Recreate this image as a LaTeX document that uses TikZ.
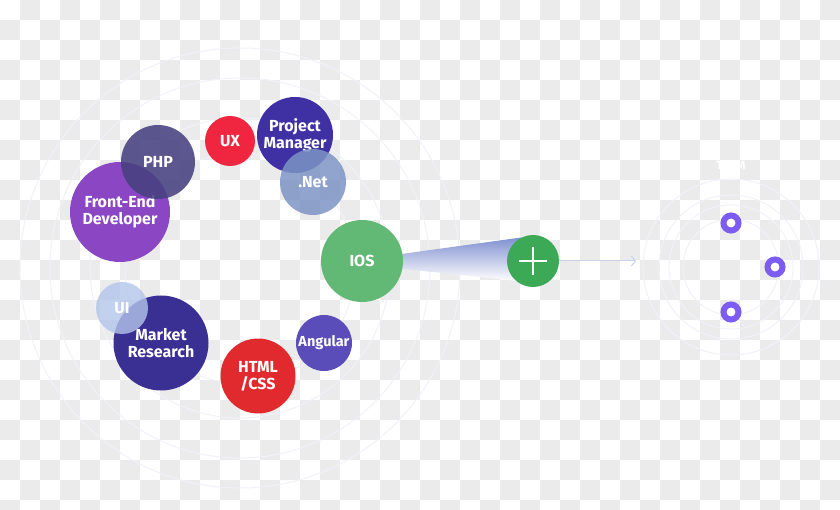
\documentclass[tikz,border=0pt]{standalone}
\usepackage{fontspec}
\setmainfont{Fira Sans}
\usetikzlibrary{arrows.meta}

\pgfdeclarelayer{bg}
\pgfdeclarelayer{mid}
\pgfsetlayers{bg,mid,main}

\definecolor{checkgray}{HTML}{EBEBEB}
\definecolor{ringblue}{HTML}{F0F2FA}
\definecolor{frontpurple}{HTML}{8A46C3}
\definecolor{phpslate}{HTML}{46417F}
\definecolor{uxred}{HTML}{F0253F}
\definecolor{pmblue}{HTML}{3F30A3}
\definecolor{netblue}{HTML}{7C94C5}
\definecolor{iosgreen}{HTML}{62B975}
\definecolor{angularblue}{HTML}{5B4DB9}
\definecolor{htmlred}{HTML}{E12A2E}
\definecolor{marketblue}{HTML}{3A2F92}
\definecolor{uiblue}{HTML}{B2C5EA}
\definecolor{plusgreen}{HTML}{3CA957}
\definecolor{conetop}{HTML}{8090D0}
\definecolor{arrowgray}{HTML}{C8D2EA}
\definecolor{dotpurple}{HTML}{7C5CF2}

\tikzset{
  skill/.style={circle, inner sep=0pt, text=white, align=center,
    font=\bfseries\fontsize{16}{17}\selectfont},
  glow/.style={draw=ringblue, line width=1pt},
  teamdot/.style={circle, draw=dotpurple, line width=6pt, fill=white,
    inner sep=0pt, minimum size=15pt},
}

\begin{document}
\begin{tikzpicture}[%
      x=1pt, y=-1pt,
      ]
      \useasboundingbox (0,0) rectangle (840,510);
      \clip (0,0) rectangle (840,510);

      % checker background
      \begin{pgfonlayer}{bg}
      \foreach \i in {0,2,...,40} {
        \foreach \j in {0,2,...,24} {
          \fill [checkgray] (\i*20+20,\j*20) rectangle ++(20,20);
          \fill [checkgray] (\i*20,\j*20+20) rectangle ++(20,20);
        }
      }
      \coordinate (skillc) at (240,268);
      \coordinate (teamc) at (731,267);
      \foreach \r in {220,190,150,115}
        \draw [glow] (skillc) circle (\r);
      \foreach \r in {88,72,62,48}
        \draw [glow] (teamc) circle (\r);
      \end{pgfonlayer}

      % skill bubbles
      \node [skill, fill=frontpurple, minimum size=100pt] (front) at (120,212) {Front-End\\Developer};
      \node [skill, fill=phpslate, fill opacity=0.88, text opacity=1, minimum size=74pt] (php) at (158,162) {PHP};
      \node [skill, fill=uxred, minimum size=50pt] (ux) at (230,141) {UX};
      \node [skill, fill=pmblue, minimum size=76pt] (pm) at (295,135) {Project\\Manager};
      \node [skill, fill=netblue, fill opacity=0.85, text opacity=1, minimum size=66pt] (net) at (313,182) {.Net};
      \node [skill, fill=iosgreen, minimum size=82pt] (ios) at (362,261) {IOS};
      \node [skill, fill=angularblue, minimum size=56pt, font=\bfseries\fontsize{14.5}{16}\selectfont] (angular) at (324,343) {Angular};
      \node [skill, fill=htmlred, minimum size=75pt] (html) at (258,376) {HTML\\/CSS};
      \node [skill, fill=marketblue, minimum size=95pt] (market) at (161,343) {Market\\Research};
      \node [skill, fill=uiblue, fill opacity=0.8, text opacity=1, minimum size=52pt] (ui) at (122,308) {UI};

      % plus and cone
      \node [circle, fill=plusgreen, inner sep=0pt, minimum size=52pt] (plus) at (533,261) {};
      \draw [white, line width=1.5pt] ([xshift=-14pt]plus.center) -- ([xshift=14pt]plus.center);
      \draw [white, line width=1.5pt] ([yshift=-14pt]plus.center) -- ([yshift=14pt]plus.center);
      \begin{pgfonlayer}{mid}
      \shade [top color=conetop, bottom color=white] (ios.10) -- (plus.116) -- (plus.229) -- (ios.-11) -- cycle;
      \end{pgfonlayer}

      \coordinate (arrowend) at (636,261);
      \draw [arrowgray, line width=1pt, -{Straight Barb[length=4pt, width=10pt]}] (plus.east) -- (arrowend);

      % team
      \node [white, font=\bfseries\fontsize{12}{14}\selectfont] (team) at (731,165) {TEAM};
      \node [teamdot] (dota) at (731,223) {};
      \node [teamdot] (dotb) at (775,267) {};
      \node [teamdot] (dotc) at (731,312) {};
      \end{tikzpicture}
\end{document}
